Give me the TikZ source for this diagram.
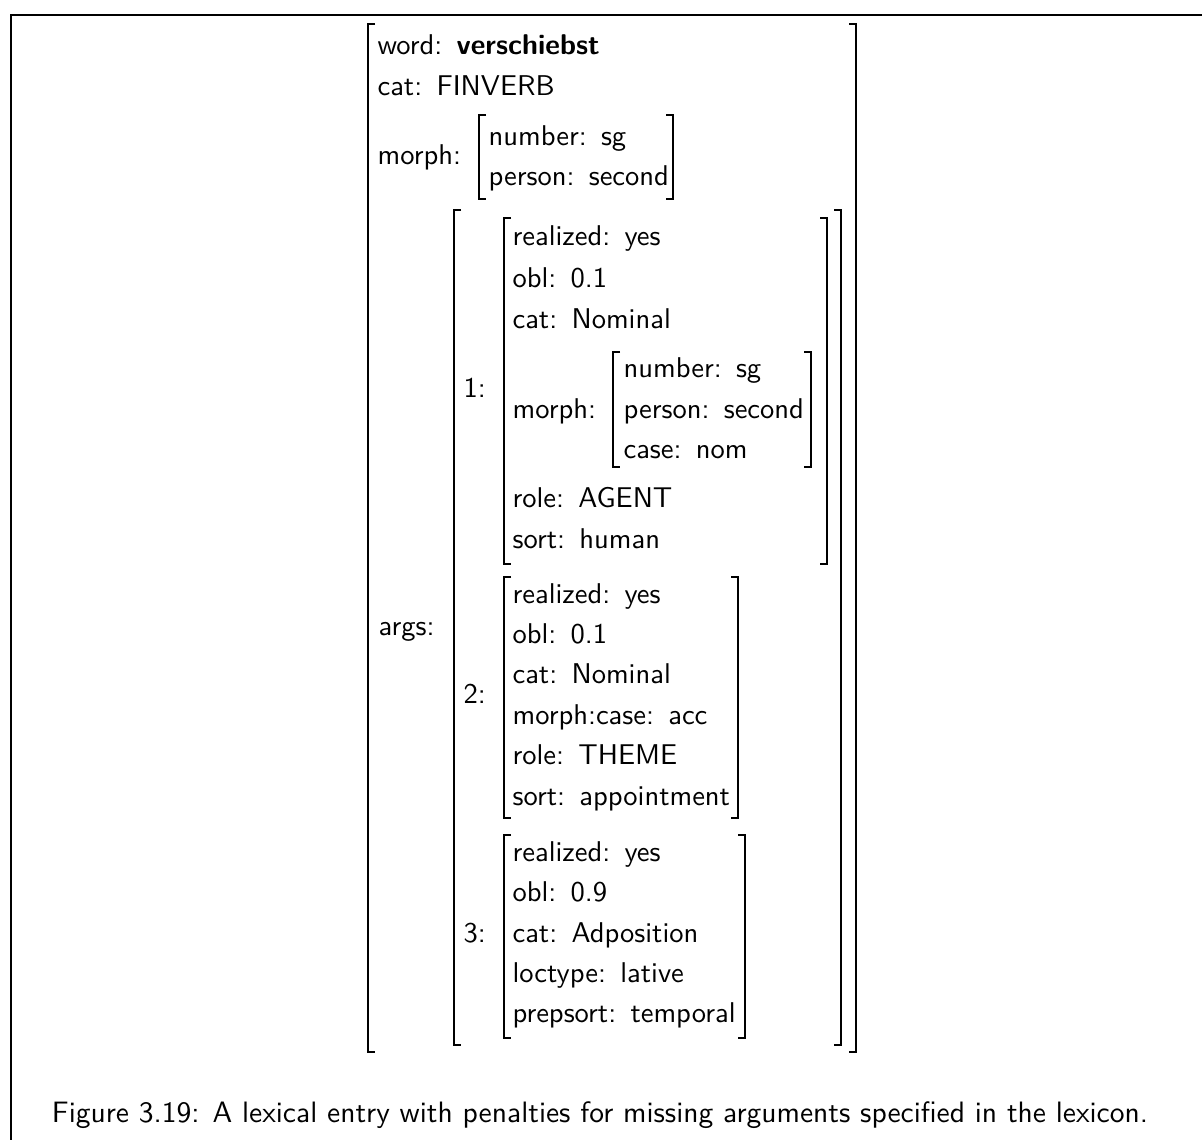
\documentclass[tikz,border=0pt]{standalone}
\usepackage{fontspec}
% feature : value with the wider gap after the colon
\newcommand\fv[2]{#1:\enspace#2}
% square brackets of an attribute-value matrix: x, top, bottom
\newcommand\avmL[3]{\draw[brk] (#1+7,#2) -- (#1,#2) -- (#1,#3) -- (#1+7,#3);}
\newcommand\avmR[3]{\draw[brk] (#1-7,#2) -- (#1,#2) -- (#1,#3) -- (#1-7,#3);}
\begin{document}
\begin{tikzpicture}[x=0.35pt,y=-0.35pt,
  txt/.style={anchor=base west,inner sep=0pt,font=\fontsize{10}{12}\selectfont\sffamily},
  brk/.style={line width=0.7pt,line join=miter,line cap=butt},
  frame/.style={line width=0.9pt}]
\useasboundingbox (0,0) rectangle (1202,1140);
% figure frame
\draw[frame] (11,1140) -- (11,15) -- (1202,15);

% outer matrix
\avmL{368}{24}{1052}
\avmR{856}{24}{1052}
\node[txt] (word) at (377,54) {\fv{word}{\textbf{verschiebst}}};
\node[txt] (cat) at (377,95) {\fv{cat}{FINVERB}};
\node[txt] (morph) at (377,164) {morph:};
\avmL{479}{115}{199}
\avmR{673}{115}{199}
\node[txt] (num) at (488,145) {\fv{number}{sg}};
\node[txt] (pers) at (488,185) {\fv{person}{second}};

% args list
\node[txt] (args) at (378,635) {args:};
\avmL{454}{210}{1045}
\avmR{841}{210}{1045}

% argument 1
\node[txt] (a1) at (463,397) {1:};
\avmL{504}{218}{564}
\avmR{827}{218}{564}
\node[txt] (a1real) at (512,245) {\fv{realized}{yes}};
\node[txt] (a1obl) at (512,287) {\fv{obl}{0.1}};
\node[txt] (a1cat) at (512,328) {\fv{cat}{Nominal}};
\node[txt] (a1morph) at (512,418) {morph:};
\avmL{613}{352}{467}
\avmR{811}{352}{467}
\node[txt] (a1num) at (623,377) {\fv{number}{sg}};
\node[txt] (a1pers) at (623,418) {\fv{person}{second}};
\node[txt] (a1case) at (623,458) {\fv{case}{nom}};
\node[txt] (a1role) at (512,507) {\fv{role}{AGENT}};
\node[txt] (a1sort) at (512,548) {\fv{sort}{human}};

% argument 2
\node[txt] (a2) at (463,703) {2:};
\avmL{504}{577}{818}
\avmR{738}{577}{818}
\node[txt] (a2real) at (512,603) {\fv{realized}{yes}};
\node[txt] (a2obl) at (512,643) {\fv{obl}{0.1}};
\node[txt] (a2cat) at (512,683) {\fv{cat}{Nominal}};
\node[txt] (a2case) at (512,724) {\fv{morph:case}{acc}};
\node[txt] (a2role) at (512,764) {\fv{role}{THEME}};
\node[txt] (a2sort) at (512,805) {\fv{sort}{appointment}};

% argument 3
\node[txt] (a3) at (463,942) {3:};
\avmL{504}{835}{1038}
\avmR{745}{835}{1038}
\node[txt] (a3real) at (512,861) {\fv{realized}{yes}};
\node[txt] (a3obl) at (512,901) {\fv{obl}{0.9}};
\node[txt] (a3cat) at (512,942) {\fv{cat}{Adposition}};
\node[txt] (a3loc) at (512,982) {\fv{loctype}{lative}};
\node[txt] (a3sort) at (512,1022) {\fv{prepsort}{temporal}};

% caption
\node[anchor=base,inner sep=0pt,font=\fontsize{10.33}{12}\selectfont\sffamily] (caption) at (600,1122)
  {Figure 3.19: A lexical entry with penalties for missing arguments specified in the lexicon.};
\end{tikzpicture}
\end{document}
